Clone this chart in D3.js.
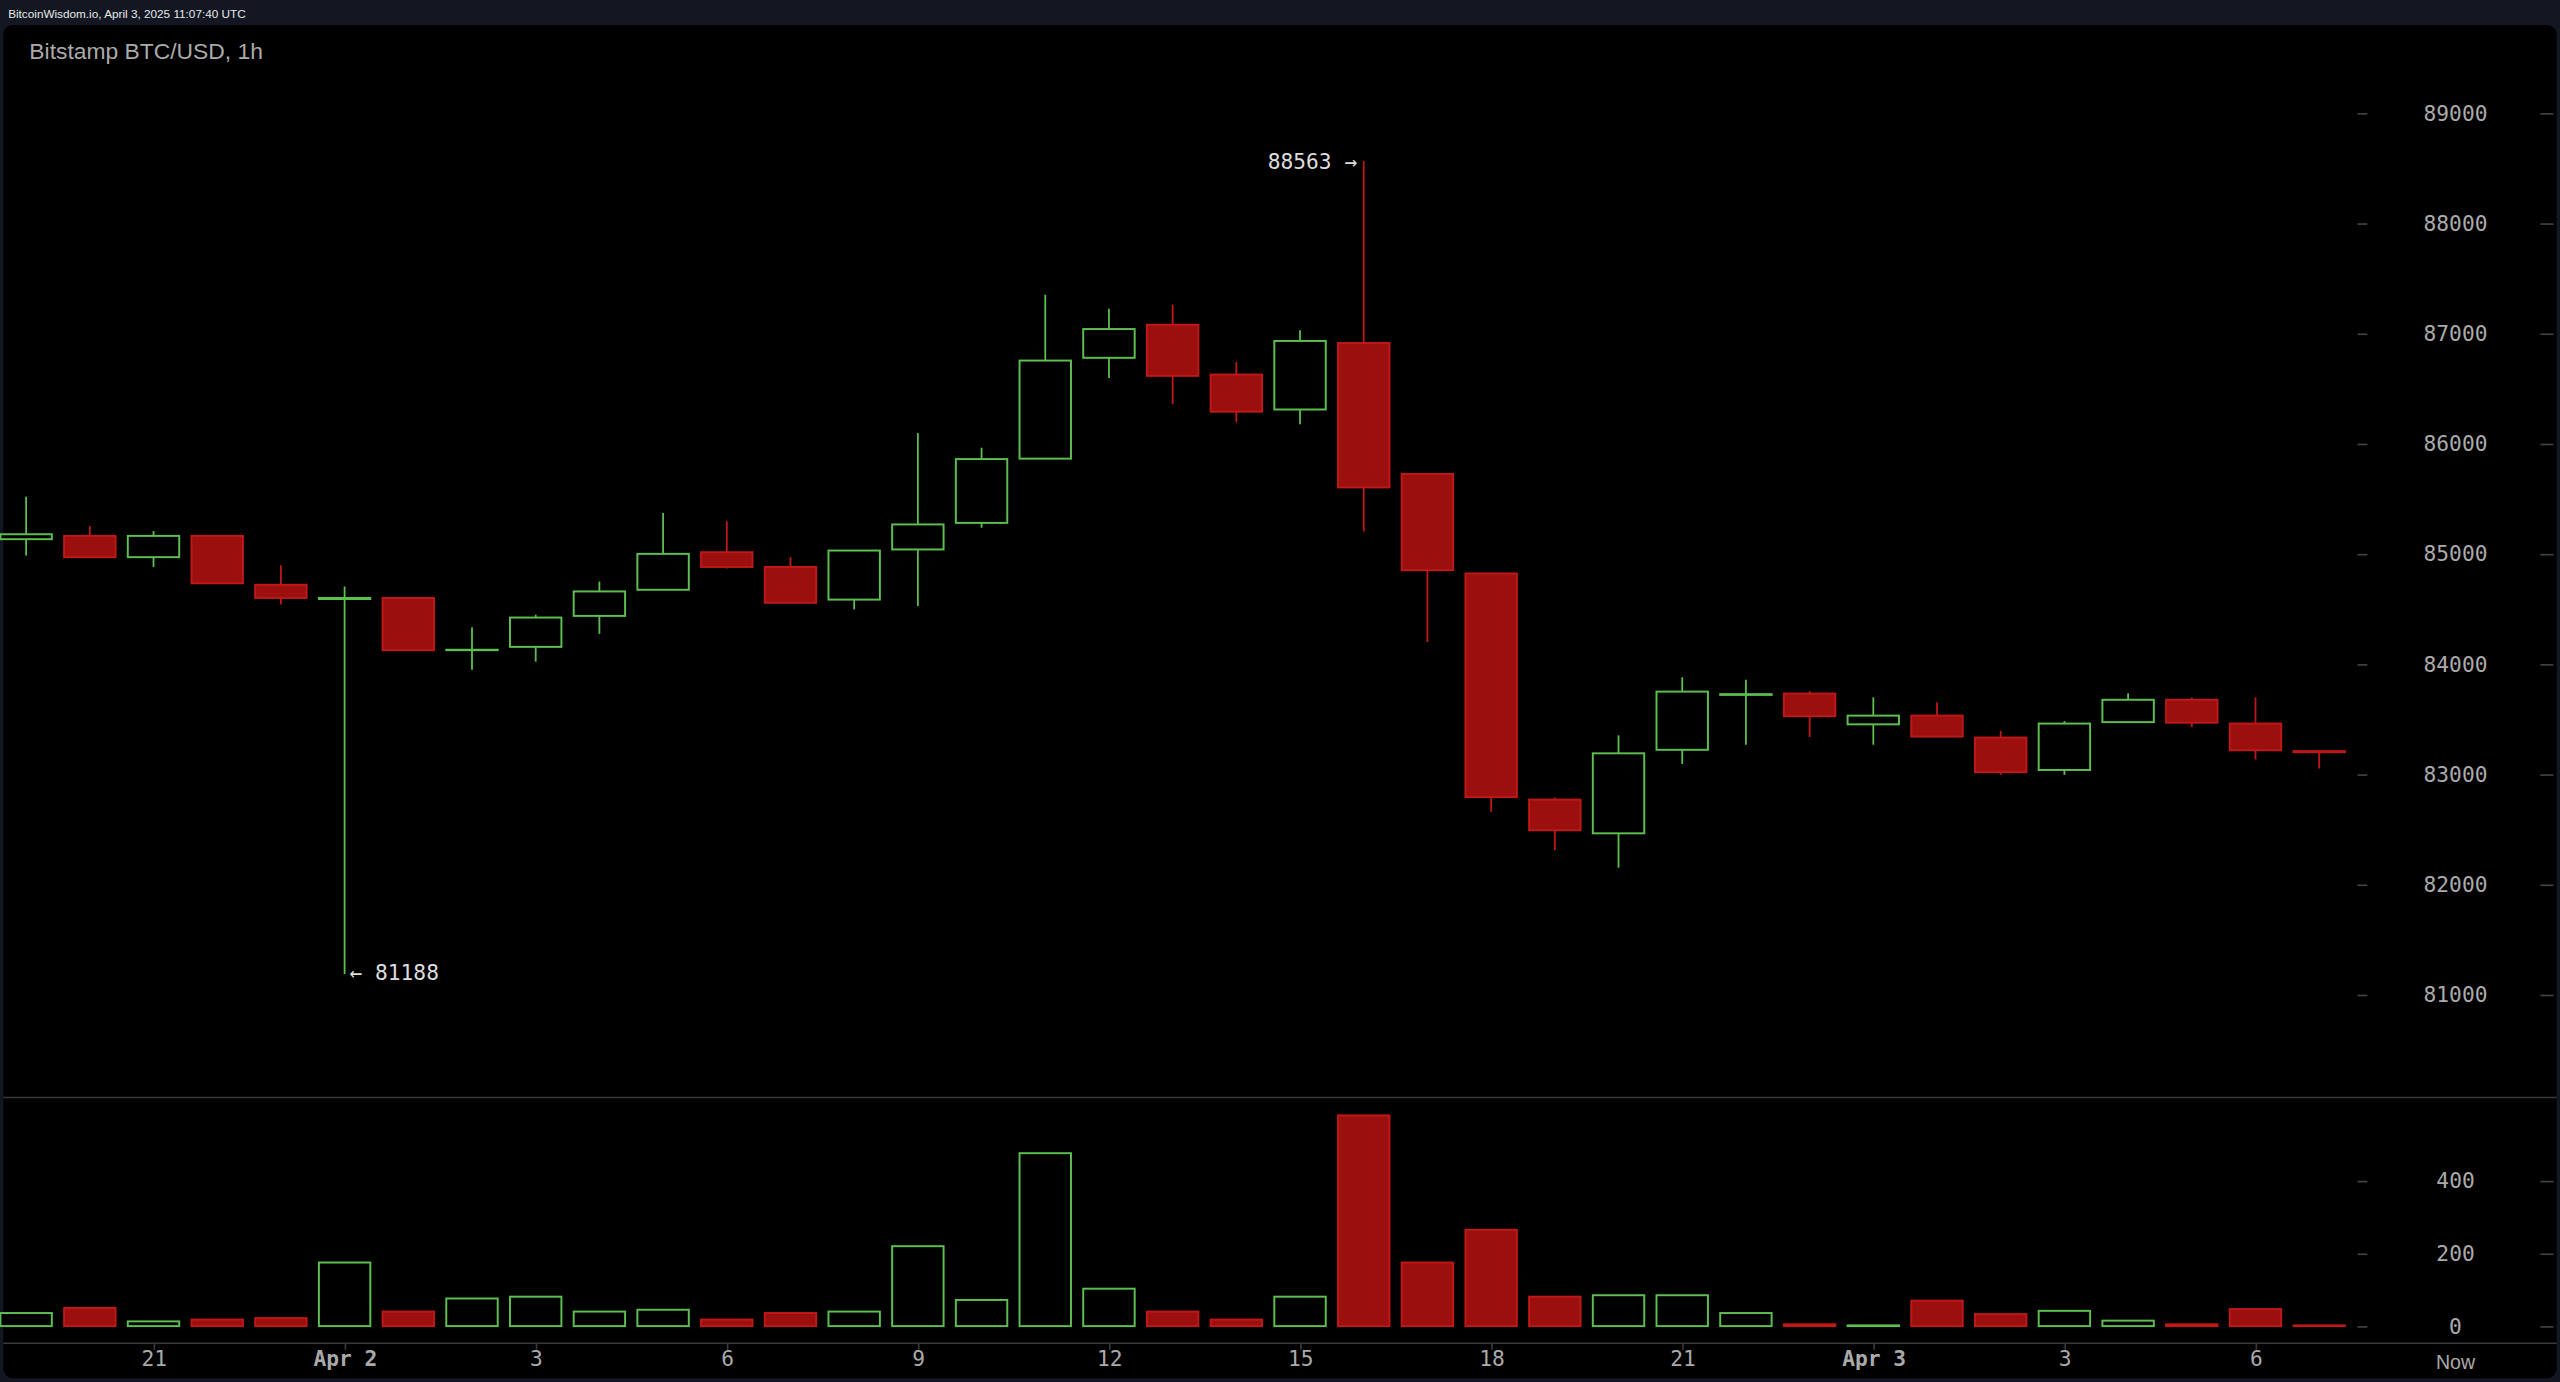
<!DOCTYPE html>
<html><head><meta charset="utf-8">
<script src="https://cdn.jsdelivr.net/npm/d3@7"></script>
<style>html,body{margin:0;padding:0;background:#131722;overflow:hidden}</style>
</head><body>
<script>
const opens  = [85133,85163,84970,85163,84719,84590,84600,84126,84156,84437,84674,85015,84881,84585,85040,85281,85864,86779,87079,86627,86310,86913,85725,84822,82770,82464,83222,83720,83732,83453,83532,83333,83039,83473,83676,83460,83210];
const closes = [85178,84970,85163,84733,84600,84600,84126,84130,84422,84659,85000,84881,84556,85030,85267,85860,86754,87040,86615,86290,86932,85603,84852,82793,82492,83190,83750,83727,83527,83532,83342,83019,83460,83676,83468,83218,83200];
const highs  = [85519,85252,85207,85163,84896,84704,84600,84333,84448,84748,85370,85296,84970,85030,86096,85963,87351,87225,87262,86741,87028,88563,85725,84822,82789,83353,83880,83857,83755,83698,83653,83394,83482,83735,83698,83698,83210];
const lows   = [84985,84970,84881,84733,84541,81188,84126,83948,84022,84274,84674,84866,84556,84496,84526,85237,85864,86596,86360,86194,86175,85203,84200,82659,82311,82152,83093,83268,83338,83268,83342,82995,82995,83473,83427,83134,83052];
const volumes= [36,50,13,18,22,175,40,76,81,40,45,18,36,40,220,72,476,103,40,18,81,580,175,265,81,85,85,36,5,2,70,33,42,15,5,47,2];
const timeTickIdx = [2,5,8,11,14,17,20,23,26,29,32,35];
const timeTickLabels = ["21","Apr 2","3","6","9","12","15","18","21","Apr 3","3","6"];
const priceTicks = [81000,82000,83000,84000,85000,86000,87000,88000,89000];
const volTicks = [0,200,400];

const W=1568,H=846;
const svg=d3.select("body").append("svg").attr("width",2560).attr("height",1382)
  .attr("viewBox",`0 0 ${W} ${H}`).style("display","block");
svg.append("rect").attr("width",W).attr("height",H).attr("fill","#131722");
svg.append("rect").attr("x",2).attr("y",15).attr("width",W-4).attr("height",H-17).attr("rx",6).attr("fill","#000");
svg.append("text").attr("x",5).attr("y",10.5).attr("fill","#e8e8e8").attr("font-family","Liberation Sans, Arial").attr("font-size",7.2).text("BitcoinWisdom.io, April 3, 2025 11:07:40 UTC");
svg.append("text").attr("x",18).attr("y",36).attr("fill","#aaa").attr("font-family","Liberation Sans, Arial").attr("font-size",14).text("Bitstamp BTC/USD, 1h");

const x=d3.scaleLinear().domain([0,36]).range([16,1420.5]);
const bw=31.5;
const y=d3.scaleLinear().domain([81000,89000]).range([609,69]);
const yv=d3.scaleLinear().domain([0,400]).range([812,723]);
const green="#5cbf4f", red="#9b0f0f", redS="#c01818";
const mono="DejaVu Sans Mono, monospace";

// separator lines
svg.append("line").attr("x1",2).attr("x2",W-2).attr("y1",672).attr("y2",672).attr("stroke","#3a3a3a").attr("stroke-width",1);
svg.append("line").attr("x1",2).attr("x2",W-2).attr("y1",822.5).attr("y2",822.5).attr("stroke","#3a3a3a").attr("stroke-width",1);

// right axes
const ax=svg.append("g").attr("transform","translate(1504,0)");
function drawYAxis(scale,ticks){
  const g=ax.append("g");
  g.call(d3.axisRight(scale).tickValues(ticks).tickSize(0).tickPadding(0).tickFormat(d3.format("d")));
  g.select(".domain").remove();
  g.selectAll("text").attr("x",0).attr("text-anchor","middle").attr("fill","#aaa").attr("font-family",mono).attr("font-size",13);
  g.selectAll(".tick").append("line").attr("x1",-60).attr("x2",-54).attr("stroke","#444");
  g.selectAll(".tick").append("line").attr("x1",52).attr("x2",60).attr("stroke","#444");
}
drawYAxis(y,priceTicks);
drawYAxis(yv,volTicks);

// x axis
const xg=svg.append("g").attr("transform","translate(0,822.5)");
xg.call(d3.axisBottom(d3.scaleLinear().domain([0,36]).range([16,1420.5])).tickValues(timeTickIdx).tickSize(4).tickFormat((d,i)=>timeTickLabels[i]));
xg.select(".domain").remove();
xg.selectAll("line").attr("stroke","#3a3a3a");
xg.selectAll("text").attr("fill","#aaa").attr("font-family",mono).attr("font-size",13).attr("dy","0.55em")
  .attr("font-weight",(d,i)=>timeTickLabels[i].startsWith("Apr")?"bold":"normal");
svg.append("text").attr("x",1504).attr("y",838).attr("text-anchor","middle").attr("fill","#aaa").attr("font-family","Liberation Sans, Arial").attr("font-size",12).text("Now");

const idx=d3.range(opens.length);
const up=i=>closes[i]>=opens[i];
// wicks
svg.append("g").selectAll("line").data(idx).join("line")
  .attr("x1",i=>x(i)).attr("x2",i=>x(i)).attr("y1",i=>y(highs[i])).attr("y2",i=>y(lows[i]))
  .attr("stroke",i=>up(i)?green:redS).attr("stroke-width",1.1);
// bodies
svg.append("g").selectAll("rect").data(idx).join("rect")
  .attr("x",i=>x(i)-bw/2).attr("width",bw)
  .attr("y",i=>y(Math.max(opens[i],closes[i])))
  .attr("height",i=>Math.max(0.01,Math.abs(y(opens[i])-y(closes[i]))))
  .attr("fill",i=>up(i)?"#000":red).attr("stroke",i=>up(i)?green:redS).attr("stroke-width",1.2);
// volumes
svg.append("g").selectAll("rect").data(idx).join("rect")
  .attr("x",i=>x(i)-bw/2).attr("width",bw)
  .attr("y",i=>yv(volumes[i])).attr("height",i=>yv(0)-yv(volumes[i]))
  .attr("fill",i=>up(i)?"#000":red).attr("stroke",i=>up(i)?green:redS).attr("stroke-width",1.2);

// annotations
const hi=d3.maxIndex(highs), lo=d3.minIndex(lows);
svg.append("text").attr("x",x(hi)-4).attr("y",y(highs[hi])+5).attr("text-anchor","end").attr("fill","#ddd").attr("font-family",mono).attr("font-size",13).text(highs[hi]+" →");
svg.append("text").attr("x",x(lo)+3).attr("y",y(lows[lo])+4).attr("fill","#ddd").attr("font-family",mono).attr("font-size",13).text("← "+lows[lo]);
</script>
</body></html>
